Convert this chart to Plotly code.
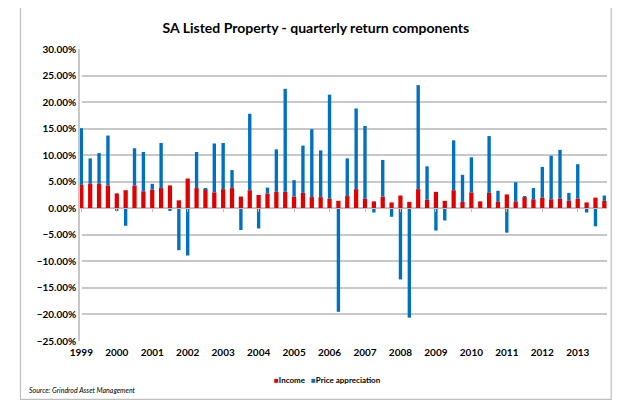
import plotly.graph_objects as go

years = [str(y) for y in range(1999, 2014)]
quarters = list(range(60))

income = [4.4, 4.6, 4.6, 4.3, 2.8, 3.4, 4.3, 3.2, 3.5, 3.8, 4.3, 1.5,
          5.6, 3.8, 3.6, 3.0, 3.6, 3.8, 2.2, 3.4, 2.5, 2.8, 3.1, 3.1,
          2.2, 2.9, 2.1, 2.1, 1.8, 1.4, 2.3, 3.6, 1.8, 1.3, 2.2, 1.1,
          2.4, 1.2, 3.6, 1.6, 3.1, 1.4, 3.4, 1.2, 3.0, 1.3, 2.9, 1.2,
          2.6, 1.3, 2.1, 1.7, 2.0, 1.7, 1.8, 1.4, 1.8, 1.1, 2.0, 1.4]

price = [10.7, 4.8, 5.8, 9.4, -0.5, -3.3, 7.0, 7.4, 1.1, 8.5, -0.5, -7.9,
         -8.9, 6.8, 0.1, 9.2, 8.7, 3.4, -4.1, 14.4, -3.8, 1.1, 8.0, 19.4,
         3.1, 8.9, 12.8, 8.8, 19.6, -19.5, 7.1, 15.2, 13.7, -0.8, 6.9, -1.6,
         -13.4, -20.6, 19.6, 6.3, -4.2, -2.3, 9.4, 5.1, 6.6, 0.0, 10.7, 2.1,
         -4.6, 3.6, 0.1, 2.1, 5.8, 8.2, 9.2, 1.5, 6.5, -0.8, -3.4, 1.0]

tick_pos = list(range(0, 60, 4))
series_names = ["Income", "Price appreciation"]

RED = "#E00000"
BLUE = "#0070C0"
FONT = "Lato"

fig = go.Figure()
fig.add_trace(go.Bar(x=quarters, y=income, name=series_names[0], marker_color=RED,
                     marker_line_width=0, width=0.48, showlegend=False))
fig.add_trace(go.Bar(x=quarters, y=price, name=series_names[1], marker_color=BLUE,
                     marker_line_width=0, width=0.38, showlegend=False))

ymin, ymax = -25, 30
# page body has an 8px default margin, so the figure is 612x397
fig.update_layout(
    width=612, height=397,
    barmode="relative",
    plot_bgcolor="white", paper_bgcolor="white",
    margin=dict(l=72, r=13, t=41, b=64),
    font=dict(family=FONT, color="black"),
    title=dict(text="<b>SA Listed Property - quarterly return components</b>",
               x=0.503, xanchor="center", y=0.95, yanchor="middle",
               font=dict(size=14, family=FONT, color="black")),
    showlegend=False,
    xaxis=dict(range=[-0.15, 59.3], tickvals=tick_pos, ticktext=years,
               showgrid=False, zeroline=False, showline=False,
               ticks="outside", ticklen=2, tickcolor="rgba(0,0,0,0)",
               tickfont=dict(size=10, family=FONT, color="black", weight="bold")),
    xaxis2=dict(range=[-0.15, 59.3], overlaying="x", anchor="free",
                position=(0 - ymin) / (ymax - ymin),
                tickvals=tick_pos, showticklabels=False, showgrid=False,
                showline=True, linecolor="#BFBFBF", linewidth=1.2,
                ticks="outside", ticklen=3, tickcolor="#BFBFBF", tickwidth=1),
    yaxis=dict(range=[ymin, ymax], dtick=5, tickformat=".2f", ticksuffix="%",
               showgrid=True, gridcolor="#C8C8C8", gridwidth=1.5,
               zeroline=False, showline=True, linecolor="#C8C8C8", linewidth=1.5,
               ticks="", ticklen=0,
               tickfont=dict(size=10, family=FONT, color="black", weight="bold")),
)
# invisible trace to render xaxis2 (zero-line axis with tick marks)
fig.add_trace(go.Scatter(x=[0], y=[0], xaxis="x2", mode="markers",
                         marker=dict(opacity=0), showlegend=False, hoverinfo="skip"))

for name, color, xpos in [(series_names[0], RED, 0.3643), (series_names[1], BLUE, 0.4345)]:
    fig.add_annotation(text=f'<span style="color:{color}">■</span><b>{name}</b>',
                       xref="paper", yref="paper",
                       x=xpos, y=-0.133, xanchor="left", yanchor="middle", showarrow=False,
                       font=dict(size=8, family=FONT, color="black"))

fig.add_annotation(text="<i>Source: Grindrod Asset Management</i>", xref="paper", yref="paper",
                   x=-0.1, y=-0.168, xanchor="left", yanchor="middle", showarrow=False,
                   font=dict(size=7, family=FONT, color="black"))

# chart-area border (left, bottom, right)
fig.add_shape(type="path", xref="paper", yref="paper",
              path="M -0.113,1.2 L -0.113,-0.2 L 1.008,-0.2 L 1.008,1.2",
              line=dict(color="#BFBFBF", width=1.2))

fig.write_html("out.html")
